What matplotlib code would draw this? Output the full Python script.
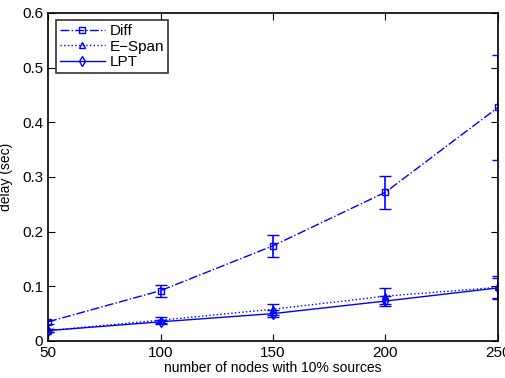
import matplotlib.pyplot as plt
from matplotlib.lines import Line2D

plt.rcParams['font.family'] = ['Liberation Sans', 'DejaVu Sans']

# Data: mean delay and error bar half-widths per node count
nodes = [50, 100, 150, 200, 250]
diff = [0.035, 0.092, 0.174, 0.272, 0.427]
diff_err = [0.004, 0.011, 0.020, 0.030, 0.096]
espan = [0.019, 0.038, 0.058, 0.082, 0.098]
espan_err = [0.003, 0.005, 0.010, 0.015, 0.021]
lpt = [0.019, 0.035, 0.050, 0.073, 0.097]
lpt_err = [0.002, 0.004, 0.006, 0.009, 0.018]

series = [
    ('Diff', diff, diff_err, 's', '-.'),
    ('E\u2212Span', espan, espan_err, '^', ':'),
    ('LPT', lpt, lpt_err, 'd', '-'),
]

fig = plt.figure(figsize=(5.06, 3.78), dpi=100)
ax = fig.add_axes([0.095, 0.098, 0.889, 0.868])

blue = '#0000ff'
handles = []
for name, vals, err, mk, ls in series:
    ax.errorbar(nodes, vals, yerr=err, fmt=mk, linestyle=ls, linewidth=1.0,
                color=blue, capsize=4, elinewidth=1.2, capthick=1.2,
                markersize=5, markerfacecolor='none', markeredgewidth=1.0)
    handles.append(Line2D([], [], color=blue, linestyle=ls, linewidth=1.0, marker=mk,
                          markersize=5, markerfacecolor='none', markeredgewidth=1.0,
                          label=name))

ax.set_xlim(50, 250)
ax.set_ylim(0, 0.6)
ax.set_xticks(nodes)
ax.set_yticks([0, 0.1, 0.2, 0.3, 0.4, 0.5, 0.6])
ax.set_yticklabels(['0', '0.1', '0.2', '0.3', '0.4', '0.5', '0.6'])
ax.tick_params(direction='in', top=True, right=True, labelsize=11, length=5)
for s in ax.spines.values():
    s.set_linewidth(1.2)

ax.set_xlabel('number of nodes with 10% sources', fontsize=10, labelpad=1)
ax.set_ylabel('delay (sec)', fontsize=10)
ax.yaxis.set_label_coords(-0.077, 0.5)

leg = ax.legend(handles=handles, loc='upper left', fontsize=11, fancybox=False,
                edgecolor='black', handlelength=3, borderaxespad=0.5,
                labelspacing=0.1, borderpad=0.25, handletextpad=0.3)
leg.get_frame().set_linewidth(1.2)

fig.savefig('out.png', dpi=100)
